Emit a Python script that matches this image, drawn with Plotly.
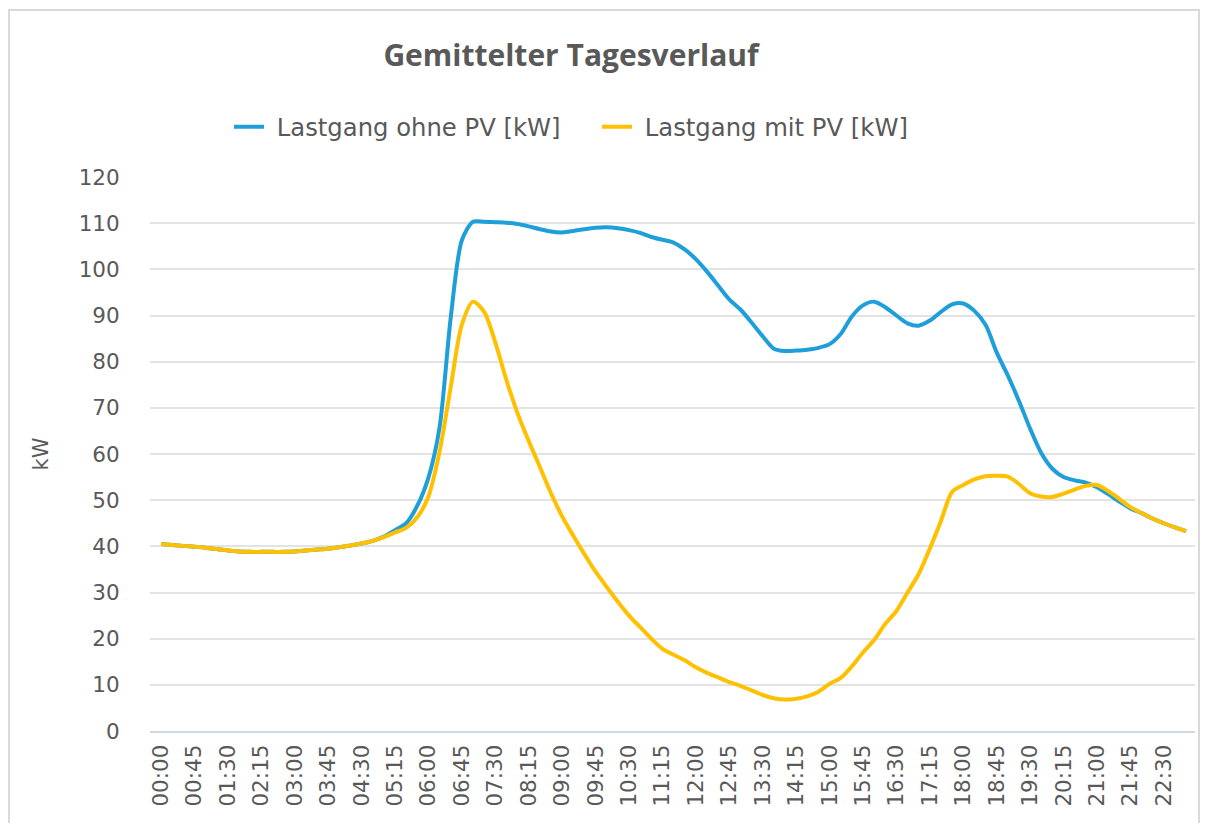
import plotly.graph_objects as go

# 15-minute categories from 00:00 to 23:00
times = [f"{(m // 60):02d}:{(m % 60):02d}" for m in range(0, 23 * 60 + 1, 15)]
tick_labels = times[::3]

ohne_pv = [
    40.5, 40.3, 40.1, 39.9, 39.7, 39.4, 39.1, 38.9, 38.8, 38.8,
    38.8, 38.8, 38.9, 39.1, 39.3, 39.5, 39.8, 40.2, 40.6, 41.2,
    42.1, 43.5, 45.0, 48.8, 54.9, 65.8, 89.5, 106.3, 110.3, 110.3,
    110.2, 110.1, 109.8, 109.3, 108.7, 108.2, 108.0, 108.3, 108.7, 109.0,
    109.1, 108.9, 108.5, 107.9, 107.0, 106.4, 105.8, 104.3, 102.2, 99.5,
    96.5, 93.5, 91.3, 88.5, 85.5, 82.8, 82.3, 82.4, 82.6, 83.0,
    83.8, 86.0, 89.8, 92.2, 93.0, 91.8, 90.0, 88.3, 87.8, 88.9,
    90.8, 92.4, 92.6, 91.0, 88.0, 82.0, 77.0, 71.5, 65.5, 60.2,
    56.8, 55.0, 54.3, 53.8, 52.8, 51.3, 49.7, 48.2, 47.2, 46.0,
    45.0, 44.1, 43.3,
]

mit_pv = [
    40.5, 40.3, 40.1, 39.9, 39.7, 39.4, 39.1, 38.9, 38.8, 38.8,
    38.8, 38.8, 38.9, 39.1, 39.3, 39.5, 39.8, 40.2, 40.6, 41.2,
    42.0, 43.0, 44.0, 46.3, 50.8, 60.5, 74.5, 88.0, 93.0, 90.8,
    84.2, 76.0, 68.8, 62.8, 57.2, 51.5, 46.5, 42.3, 38.3, 34.5,
    31.2, 28.0, 25.0, 22.5, 20.0, 17.8, 16.5, 15.3, 13.8, 12.6,
    11.6, 10.6, 9.8, 8.8, 7.8, 7.1, 6.8, 7.0, 7.5, 8.5,
    10.2, 11.5, 14.0, 17.0, 19.7, 23.2, 26.0, 30.0, 34.0, 39.5,
    45.5, 51.8, 53.3, 54.5, 55.2, 55.3, 55.1, 53.5, 51.5, 50.8,
    50.7, 51.4, 52.3, 53.1, 53.3, 52.0, 50.3, 48.5, 47.2, 46.0,
    45.0, 44.1, 43.3,
]

y_ticks = list(range(0, 121, 10))

FONT = "DejaVu Sans"
GRAY = "#595959"

# figure geometry (page has an 8px body margin)
W, H = 1192, 815
PL, PR, PT, PB = 142, 1187, 169, 723
PW, PH = PR - PL, PB - PT

fig = go.Figure()
fig.add_trace(go.Scatter(
    x=times, y=ohne_pv, mode="lines", name="\u00a0Lastgang ohne PV [kW]",
    line=dict(color="#1E9FD9", width=4, shape="spline", smoothing=0.8),
))
fig.add_trace(go.Scatter(
    x=times, y=mit_pv, mode="lines", name="\u00a0Lastgang mit PV [kW]",
    line=dict(color="#FFC000", width=4, shape="spline", smoothing=0.8),
))

fig.update_layout(
    width=W, height=H,
    margin=dict(l=PL, r=W - PR, t=PT, b=H - PB, pad=0),
    paper_bgcolor="white", plot_bgcolor="white",
    font=dict(family=FONT, color=GRAY, size=21),
    title=dict(
        text="<b>Gemittelter Tagesverlauf</b>",
        font=dict(family="Open Sans", size=30, color=GRAY),
        x=563 / W, xanchor="center", xref="container",
        y=1 - 47 / H, yanchor="middle", yref="container",
    ),
    legend=dict(
        orientation="h", x=(221 - PL) / PW, xanchor="left",
        y=1 + 50 / PH, yanchor="middle",
        font=dict(family=FONT, size=24.3, color=GRAY),
        entrywidth=323, entrywidthmode="pixels",
    ),
    showlegend=True,
)

fig.update_xaxes(
    type="category",
    range=[-0.99, 92.8],
    tickmode="array", tickvals=tick_labels, ticktext=tick_labels,
    tickangle=-90,
    tickfont=dict(family=FONT, size=21.5, color=GRAY),
    showgrid=False,
    showline=True, linecolor="#D0D7E5", linewidth=2,
    ticks="outside", ticklen=3, tickcolor="rgba(0,0,0,0)",
    zeroline=False,
)
fig.update_yaxes(
    range=[0, 120],
    tickmode="array", tickvals=y_ticks,
    tickfont=dict(family=FONT, size=21.5, color=GRAY),
    showgrid=True, gridcolor="#E3E3E3", gridwidth=2,
    zeroline=False,
    ticks="outside", ticklen=25, tickcolor="rgba(0,0,0,0)",
    title=dict(text="kW", font=dict(family=FONT, size=21, color=GRAY), standoff=24),
)

# chart border
fig.add_shape(
    type="rect", xref="paper", yref="paper",
    x0=(1 - PL) / PW, x1=(W - 1 - PL) / PW,
    y0=-(H + 50 - PB) / PH, y1=1 + (PT - 2) / PH,
    line=dict(color="#D9D9D9", width=2), fillcolor="rgba(0,0,0,0)",
    layer="below",
)

fig.write_html("out.html")
